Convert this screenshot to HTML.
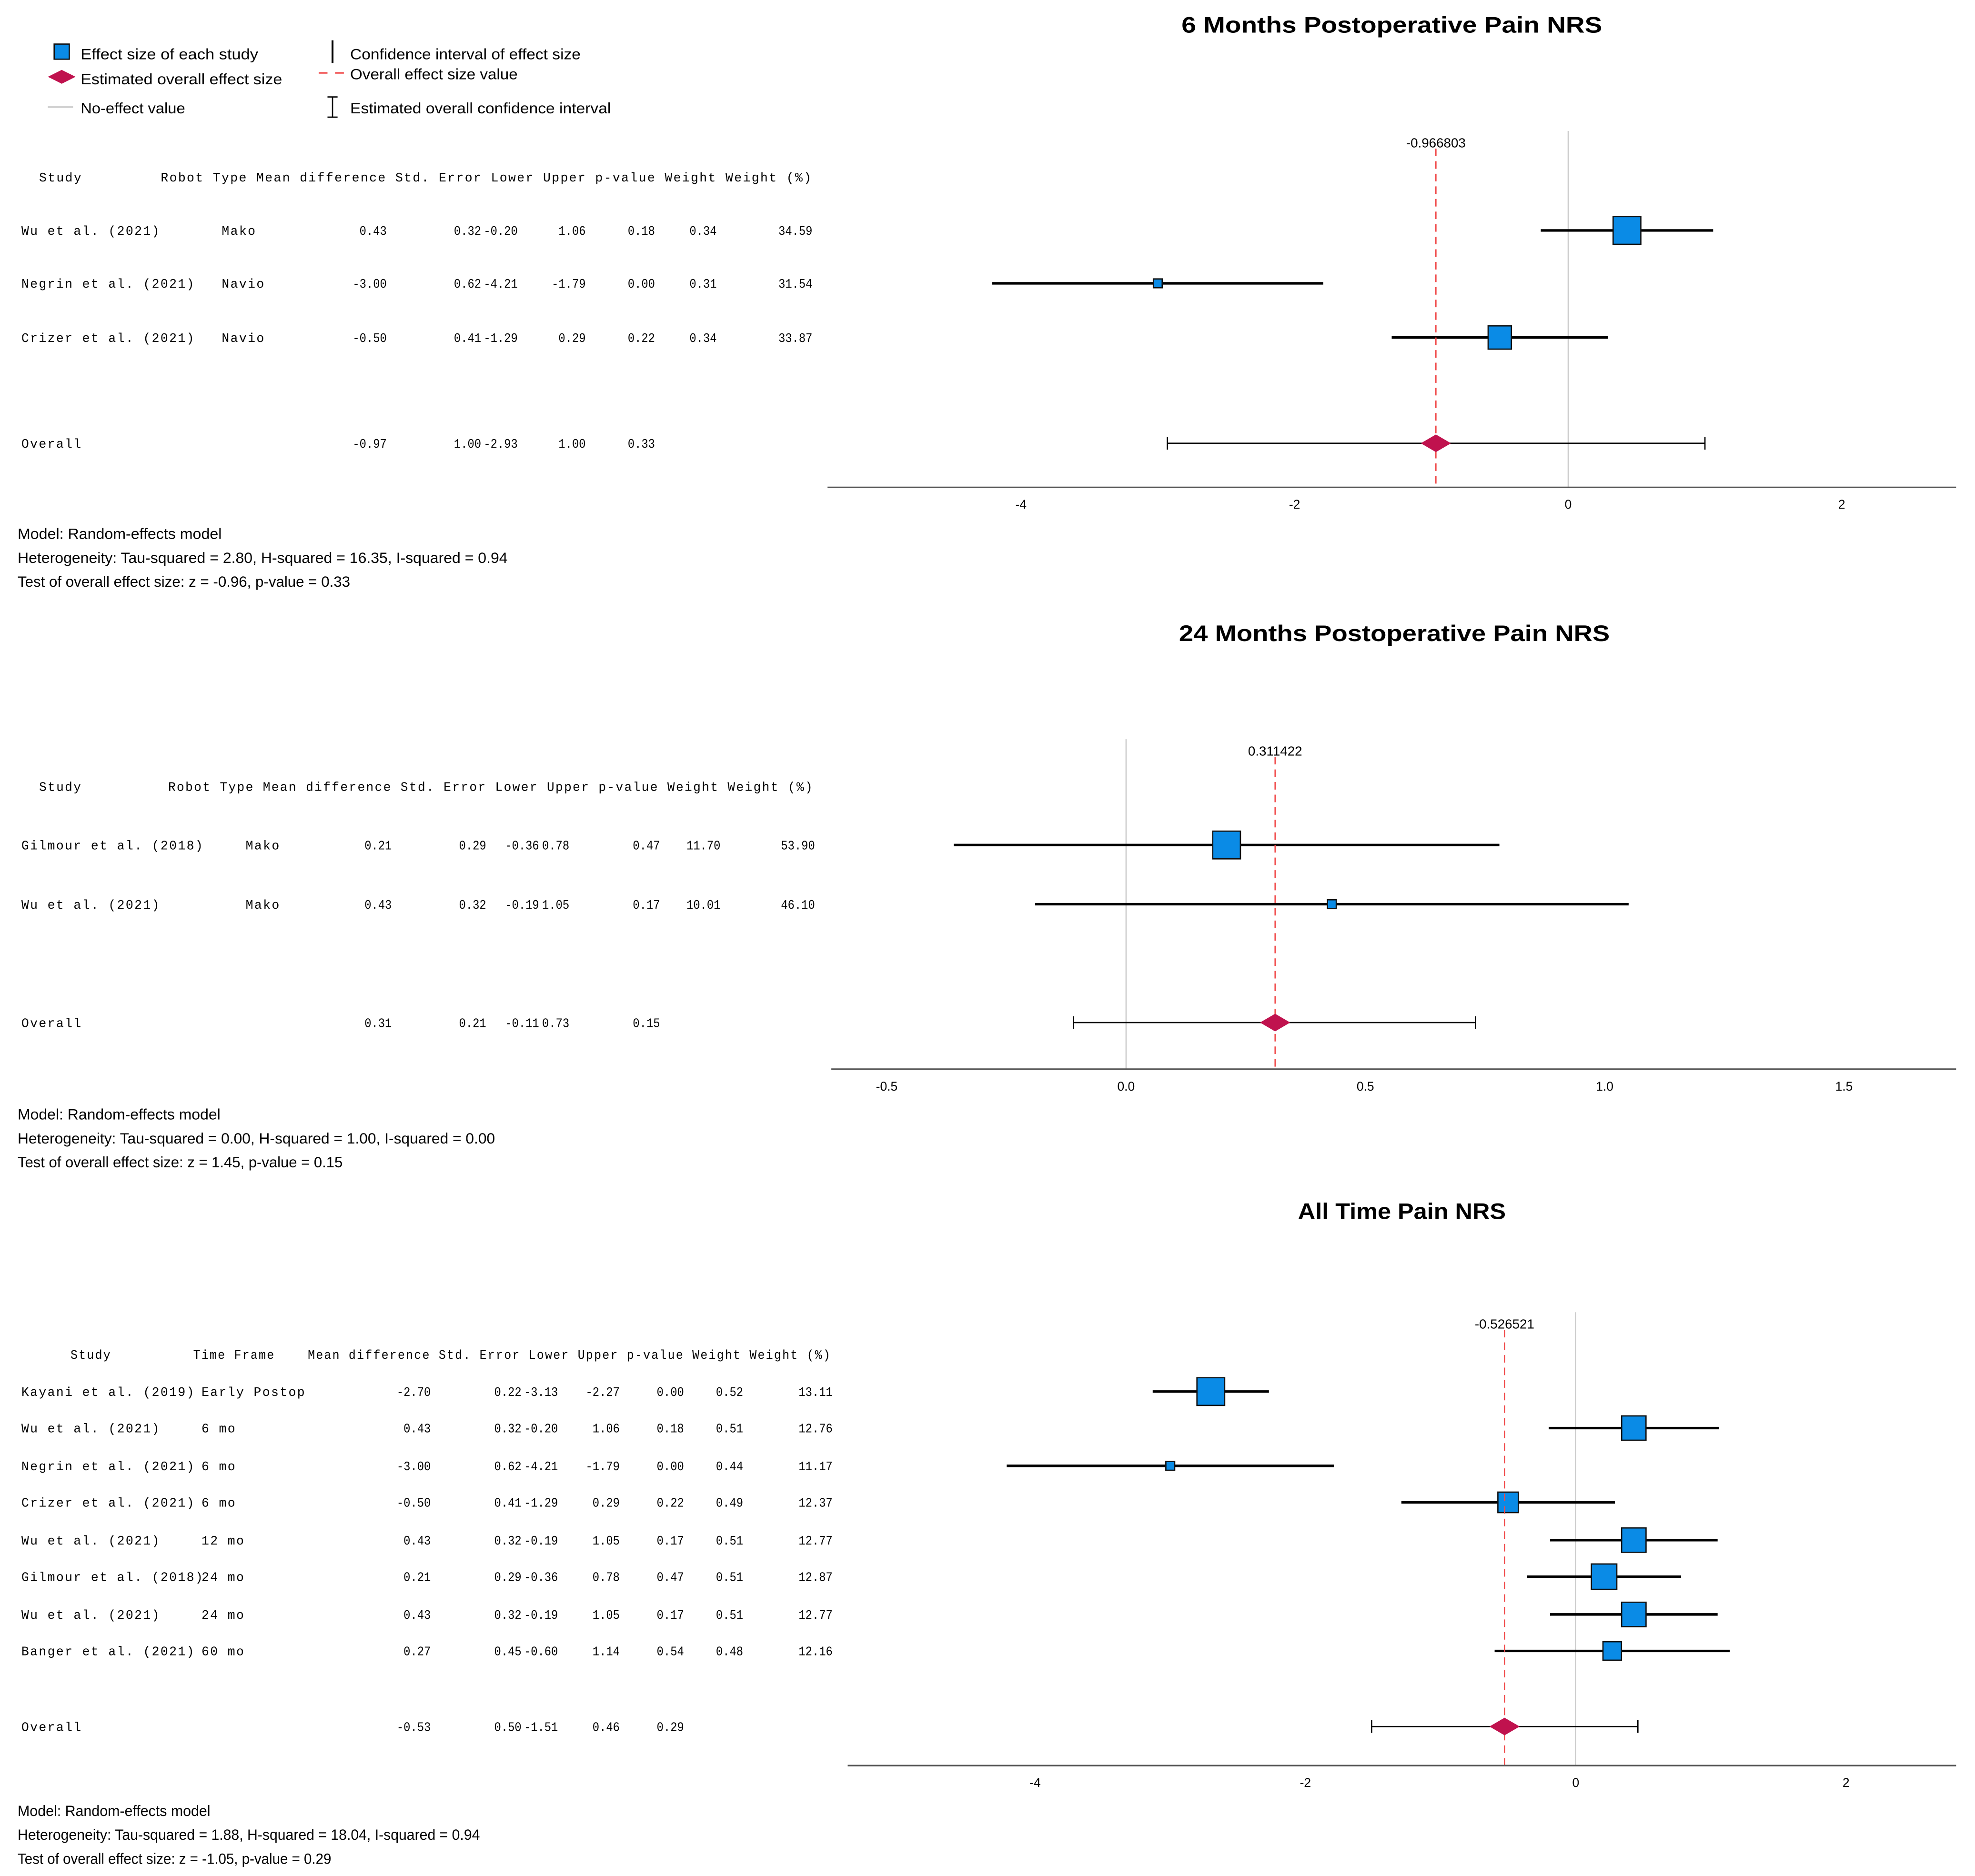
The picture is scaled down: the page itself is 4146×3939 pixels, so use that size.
<!DOCTYPE html>
<html><head><meta charset="utf-8"><style>
html,body{margin:0;padding:0;background:#fff;}
svg{display:block;}
.mono{font-family:"Liberation Mono",monospace;font-size:10px;letter-spacing:0.9px;fill:#000;white-space:pre;}
.num{font-family:"Liberation Mono",monospace;font-size:10px;letter-spacing:0;fill:#000;white-space:pre;}
.sans{font-family:"Liberation Sans",sans-serif;fill:#000;}
</style></head><body>
<svg id="chart" width="4146" height="3939" viewBox="0 0 1568 1489.7" preserveAspectRatio="none" xmlns="http://www.w3.org/2000/svg" xml:space="preserve">
<g>
<rect x="43" y="35" width="12" height="12" fill="#0a8be6" stroke="#111" stroke-width="1"/>
<text class="sans" x="64" y="47" font-size="12" textLength="141" lengthAdjust="spacingAndGlyphs">Effect size of each study</text>
<polygon points="38,61 49,55.5 60,61 49,66.5" fill="#c0124e"/>
<text class="sans" x="64" y="67" font-size="12" textLength="160" lengthAdjust="spacingAndGlyphs">Estimated overall effect size</text>
<line x1="38" y1="85" x2="58" y2="85" stroke="#ccc" stroke-width="1.2"/>
<text class="sans" x="64" y="90" font-size="12" textLength="83" lengthAdjust="spacingAndGlyphs">No-effect value</text>
<line x1="264" y1="32" x2="264" y2="50" stroke="#000" stroke-width="1.5"/>
<text class="sans" x="278" y="47" font-size="12" textLength="183" lengthAdjust="spacingAndGlyphs">Confidence interval of effect size</text>
<line x1="253" y1="58" x2="260" y2="58" stroke="#e33" stroke-width="1"/>
<line x1="266" y1="58" x2="273" y2="58" stroke="#e33" stroke-width="1"/>
<text class="sans" x="278" y="63" font-size="12" textLength="133" lengthAdjust="spacingAndGlyphs">Overall effect size value</text>
<path d="M260 77H268M264 77V93M260 93H268" stroke="#000" stroke-width="1" fill="none"/>
<text class="sans" x="278" y="90" font-size="12" textLength="207" lengthAdjust="spacingAndGlyphs">Estimated overall confidence interval</text>
</g>
</svg>
<script>
// ---- Panel 1 data ----
const p1Studies=["Wu et al. (2021)","Negrin et al. (2021)","Crizer et al. (2021)"];
const p1Types=["Mako","Navio","Navio"];
const p1Mean=[0.43,-3.00,-0.50];
const p1SE=[0.32,0.62,0.41];
const p1Lower=[-0.20,-4.21,-1.29];
const p1Upper=[1.06,-1.79,0.29];
const p1P=[0.18,0.00,0.22];
const p1W=[0.34,0.31,0.34];
const p1Wpct=[34.59,31.54,33.87];
const p1Overall=[-0.97,1.00,-2.93,1.00,0.33];
const p1OverallExact=-0.966803;
const p1Ticks=[-4,-2,0,2];
const p1Foot=["Model: Random-effects model","Heterogeneity: Tau-squared = 2.80, H-squared = 16.35, I-squared = 0.94","Test of overall effect size: z = -0.96, p-value = 0.33"];
// ---- Panel 2 data ----
const p2Studies=["Gilmour et al. (2018)","Wu et al. (2021)"];
const p2Types=["Mako","Mako"];
const p2Mean=[0.21,0.43];
const p2SE=[0.29,0.32];
const p2Lower=[-0.36,-0.19];
const p2Upper=[0.78,1.05];
const p2P=[0.47,0.17];
const p2W=[11.70,10.01];
const p2Wpct=[53.90,46.10];
const p2Overall=[0.31,0.21,-0.11,0.73,0.15];
const p2OverallExact=0.311422;
const p2Ticks=[-0.5,0.0,0.5,1.0,1.5];
const p2Foot=["Model: Random-effects model","Heterogeneity: Tau-squared = 0.00, H-squared = 1.00, I-squared = 0.00","Test of overall effect size: z = 1.45, p-value = 0.15"];
// ---- Panel 3 data ----
const p3Studies=["Kayani et al. (2019)","Wu et al. (2021)","Negrin et al. (2021)","Crizer et al. (2021)","Wu et al. (2021)","Gilmour et al. (2018)","Wu et al. (2021)","Banger et al. (2021)"];
const p3Types=["Early Postop","6 mo","6 mo","6 mo","12 mo","24 mo","24 mo","60 mo"];
const p3Mean=[-2.70,0.43,-3.00,-0.50,0.43,0.21,0.43,0.27];
const p3SE=[0.22,0.32,0.62,0.41,0.32,0.29,0.32,0.45];
const p3Lower=[-3.13,-0.20,-4.21,-1.29,-0.19,-0.36,-0.19,-0.60];
const p3Upper=[-2.27,1.06,-1.79,0.29,1.05,0.78,1.05,1.14];
const p3P=[0.00,0.18,0.00,0.22,0.17,0.47,0.17,0.54];
const p3W=[0.52,0.51,0.44,0.49,0.51,0.51,0.51,0.48];
const p3Wpct=[13.11,12.76,11.17,12.37,12.77,12.87,12.77,12.16];
const p3Overall=[-0.53,0.50,-1.51,0.46,0.29];
const p3OverallExact=-0.526521;
const p3Ticks=[-4,-2,0,2];
const p3Foot=["Model: Random-effects model","Heterogeneity: Tau-squared = 1.88, H-squared = 18.04, I-squared = 0.94","Test of overall effect size: z = -1.05, p-value = 0.29"];

const NS="http://www.w3.org/2000/svg";
const svg=document.getElementById('chart');
function mk(tag,attrs,parent,txt){const e=document.createElementNS(NS,tag);for(const k in attrs)e.setAttribute(k,attrs[k]);if(txt!==undefined)e.textContent=txt;(parent||svg).appendChild(e);return e;}
function f2(v){return v.toFixed(2);}
function numText(parent,xEnd,y,s){
  const w=s.length*5.4;
  return mk('text',{class:'num',x:xEnd-w,y:y,textLength:w,lengthAdjust:'spacingAndGlyphs'},parent,s);
}

function panel(cfg){
  const g=mk('g',{});
  
  
  const X=v=>cfg.x0+v*cfg.unit;
  const t=mk('text',{class:'sans',x:cfg.titleX-cfg.titleW/2,y:cfg.titleY,'font-size':18,'font-weight':'bold',textLength:cfg.titleW,lengthAdjust:'spacingAndGlyphs'},g,cfg.title);
  
  
  const h=mk('text',{class:'mono',x:cfg.hdrX,y:cfg.hdrY,textLength:cfg.hdrEnd-cfg.hdrX,lengthAdjust:'spacingAndGlyphs'},g,cfg.header);
  
  
  const n=cfg.studies.length;
  const wmin=Math.min(...cfg.wpct),wmax=Math.max(...cfg.wpct);
  const z=mk('line',{x1:X(0),x2:X(0),y1:cfg.top,y2:cfg.axisY,stroke:'#c8c8c8','stroke-width':0.9},g);
  
  
  for(let i=0;i<n;i++){
    const y=cfg.rows[i];
    const row=mk('g',{},g);
    
    
    mk('text',{class:'mono',x:17,y:y+3.5},row,cfg.studies[i]);
    mk('text',{class:'mono',x:cfg.typeX,y:y+3.5},row,cfg.types[i]);
    const vals=[f2(cfg.mean[i]),f2(cfg.se[i]),f2(cfg.lower[i]),f2(cfg.upper[i]),f2(cfg.p[i]),f2(cfg.w[i]),f2(cfg.wpct[i])];
    vals.forEach((v,j)=>numText(row,cfg.cols[j],y+3.5,v));
    const ci=mk('line',{x1:X(cfg.lower[i]),x2:X(cfg.upper[i]),y1:y,y2:y,stroke:'#000','stroke-width':2},g);
    
    
    const s=7+(cfg.wpct[i]-wmin)/(wmax-wmin)*15;
    const b=mk('rect',{x:X(cfg.mean[i])-s/2,y:y-s/2,width:s,height:s,fill:'#0a8be6',stroke:'#111','stroke-width':1},g);
    
    
  }
  const oy=cfg.overallY, o=cfg.overall;
  const orow=mk('g',{},g);
  
  
  mk('text',{class:'mono',x:17,y:oy+3.5},orow,'Overall');
  [f2(o[0]),f2(o[1]),f2(o[2]),f2(o[3]),f2(o[4])].forEach((v,j)=>numText(orow,cfg.cols[j],oy+3.5,v));
  const d=mk('line',{x1:X(cfg.exact),x2:X(cfg.exact),y1:cfg.top+14,y2:cfg.axisY,stroke:'#f04848','stroke-width':1,'stroke-dasharray':'6,4'},g);
  
  
  const dl=mk('text',{class:'sans',x:X(cfg.exact),y:cfg.top+13,'font-size':10.5,'text-anchor':'middle'},g,String(cfg.exact));
  
  
  const oc=mk('path',{d:`M${X(o[2])} ${oy-5}V${oy+5}M${X(o[2])} ${oy}H${X(o[3])}M${X(o[3])} ${oy-5}V${oy+5}`,stroke:'#000','stroke-width':1,fill:'none'},g);
  
  
  const dx=X(cfg.exact);
  const di=mk('polygon',{points:`${dx-12},${oy} ${dx},${oy-7} ${dx+12},${oy} ${dx},${oy+7}`,fill:'#c0124e'},g);
  
  
  const ax=mk('line',{x1:cfg.axL,x2:1553,y1:cfg.axisY,y2:cfg.axisY,stroke:'#555','stroke-width':1.2},g);
  
  
  cfg.ticks.forEach(v=>{
    const tl=mk('text',{class:'sans',x:X(v),y:cfg.axisY+17,'font-size':10,'text-anchor':'middle'},g,cfg.tickFmt(v));
    
    
  });
  cfg.foot.forEach((s,i)=>{
    const ft=mk('text',{class:'sans',x:14,y:cfg.footY+i*19,'font-size':12,textLength:cfg.footW[i]-14,lengthAdjust:'spacingAndGlyphs'},g,s);
    
    
  });
}
panel({name:'panel-6-months',title:'6 Months Postoperative Pain NRS',titleX:1105,titleW:334,titleY:26,
  header:'Study         Robot Type Mean difference Std. Error Lower Upper p-value Weight Weight (%)',hdrX:31,hdrEnd:645,hdrY:144,
  studies:p1Studies,types:p1Types,mean:p1Mean,se:p1SE,lower:p1Lower,upper:p1Upper,p:p1P,w:p1W,wpct:p1Wpct,
  overall:p1Overall,exact:p1OverallExact,ticks:p1Ticks,foot:p1Foot,footW:[176,403,278],tickFmt:v=>String(v),
  rows:[183,225,268],overallY:352,typeX:176,cols:[307,382,411,465,520,569,645],
  x0:1245,unit:108.6,top:104,axisY:387,axL:657,footY:428});
panel({name:'panel-24-months',title:'24 Months Postoperative Pain NRS',titleX:1107,titleW:342,titleY:509,
  header:'Study          Robot Type Mean difference Std. Error Lower Upper p-value Weight Weight (%)',hdrX:31,hdrEnd:646,hdrY:628,
  studies:p2Studies,types:p2Types,mean:p2Mean,se:p2SE,lower:p2Lower,upper:p2Upper,p:p2P,w:p2W,wpct:p2Wpct,
  overall:p2Overall,exact:p2OverallExact,ticks:p2Ticks,foot:p2Foot,footW:[175,393,272],tickFmt:v=>v.toFixed(1),
  rows:[671,718],overallY:812,typeX:195,cols:[311,386,428,452,524,572,647],
  x0:894,unit:380,top:587,axisY:849,axL:660,footY:889});
panel({name:'panel-all-time',title:'All Time Pain NRS',titleX:1113,titleW:165,titleY:968,
  header:'Study          Time Frame    Mean difference Std. Error Lower Upper p-value Weight Weight (%)',hdrX:56,hdrEnd:660,hdrY:1079,
  studies:p3Studies,types:p3Types,mean:p3Mean,se:p3SE,lower:p3Lower,upper:p3Upper,p:p3P,w:p3W,wpct:p3Wpct,
  overall:p3Overall,exact:p3OverallExact,ticks:p3Ticks,foot:p3Foot,footW:[167,381,263],tickFmt:v=>String(v),
  rows:[1105,1134,1164,1193,1223,1252,1282,1311],overallY:1371,typeX:160,cols:[342,414,443,492,543,590,661],
  x0:1251,unit:107.3,top:1042,axisY:1402,axL:673,footY:1442});
</script>
</body></html>
